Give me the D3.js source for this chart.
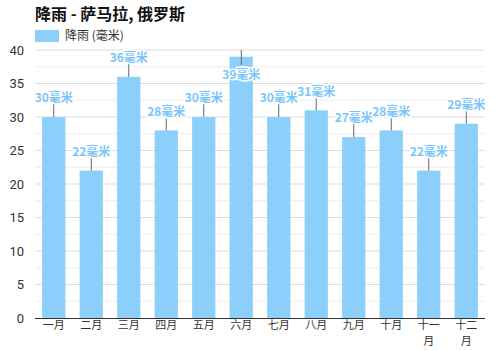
<!DOCTYPE html>
<html>
<head>
<meta charset="utf-8">
<script src="https://cdn.jsdelivr.net/npm/d3@7"></script>
<style>
  html, body { margin: 0; padding: 0; background: #fff; }
  svg { display: block; font-family: "Noto Sans CJK SC", "DejaVu Sans", sans-serif; }
</style>
</head>
<body>
<svg id="chart" width="500" height="350"></svg>
<script>
// Monthly rainfall for Samara, Russia
const months = ["一月", "二月", "三月", "四月", "五月", "六月", "七月", "八月", "九月", "十月", "十一月", "十二月"];
const rainfall = [30, 22, 36, 28, 30, 39, 30, 31, 27, 28, 22, 29];
const yTicks = [0, 5, 10, 15, 20, 25, 30, 35, 40];
const title = "降雨 - 萨马拉, 俄罗斯";
const seriesName = "降雨 (毫米)";
const unit = "毫米";

const barColor = "#8ccffb";
const labelColor = "#7ac5fa";

const svg = d3.select("#chart");
const margin = { top: 50, right: 15, bottom: 32, left: 35 };
const W = 500, H = 350;

const x = d3.scaleBand().domain(months).range([margin.left, W - margin.right]).paddingInner(0.38).paddingOuter(0.19);
const y = d3.scaleLinear().domain([0, 40]).range([H - margin.bottom, margin.top]);

// Gridlines: major every 5, minor halfway between
const minor = d3.range(2.5, 40, 5);
svg.append("g").selectAll("line").data(minor).join("line")
  .attr("x1", margin.left).attr("x2", W - margin.right)
  .attr("y1", d => y(d)).attr("y2", d => y(d))
  .attr("stroke", "#eeeeee").attr("stroke-width", 1);
svg.append("g").selectAll("line").data(yTicks.slice(1)).join("line")
  .attr("x1", margin.left).attr("x2", W - margin.right)
  .attr("y1", d => y(d)).attr("y2", d => y(d))
  .attr("stroke", "#dddddd").attr("stroke-width", 1);

// Bars
svg.append("g").selectAll("rect").data(rainfall).join("rect")
  .attr("x", (d, i) => x(months[i]))
  .attr("y", d => y(d))
  .attr("width", x.bandwidth())
  .attr("height", d => y(0) - y(d))
  .attr("fill", barColor);

// Y axis labels
svg.append("g").selectAll("text").data(yTicks).join("text")
  .attr("x", margin.left - 11)
  .attr("y", d => y(d))
  .attr("dy", "0.35em")
  .attr("text-anchor", "end")
  .attr("font-family", "Roboto, 'DejaVu Sans', sans-serif")
  .attr("font-size", 13)
  .attr("fill", "#333")
  .text(d => d);

// X axis baseline
svg.append("line")
  .attr("x1", margin.left).attr("x2", W - margin.right)
  .attr("y1", y(0) + 0.5).attr("y2", y(0) + 0.5)
  .attr("stroke", "#333").attr("stroke-width", 1.2);

// X axis labels: long names wrap onto a second line
const xg = svg.append("g");
months.forEach(m => {
  const cx = x(m) + x.bandwidth() / 2;
  const lines = m.length > 2 ? [m.slice(0, 2), m.slice(2)] : [m];
  lines.forEach((s, k) => {
    xg.append("text")
      .attr("x", cx).attr("y", y(0) + 11 + k * 16.2)
      .attr("text-anchor", "middle")
      .attr("font-size", 11)
      .attr("fill", "#333")
      .text(s);
  });
});

// Value labels with leader lines
const lg = svg.append("g");
rainfall.forEach((v, i) => {
  const cx = x(months[i]) + x.bandwidth() / 2;
  const top = y(v);
  let ly = top - 19;
  let l1 = top - 15, l2 = top;
  if (ly < margin.top + 4) {
    ly = top + 18;
    l1 = margin.top; l2 = ly - 10;
  }
  lg.append("line")
    .attr("x1", cx).attr("x2", cx).attr("y1", l1).attr("y2", l2)
    .attr("stroke", "#666").attr("stroke-width", 1);
  lg.append("text")
    .attr("x", cx).attr("y", ly).attr("dy", "0.35em")
    .attr("text-anchor", "middle")
    .attr("font-size", 12).attr("font-weight", "bold")
    .attr("fill", labelColor)
    .attr("stroke", "#fff").attr("stroke-width", 3).attr("stroke-linejoin", "round")
    .attr("paint-order", "stroke")
    .text(v + unit);
});

// Title and legend
svg.append("text")
  .attr("x", 35).attr("y", 20)
  .attr("font-size", 16).attr("font-weight", "bold").attr("fill", "#111")
  .text(title);
svg.append("rect")
  .attr("x", 35).attr("y", 30).attr("width", 24).attr("height", 12)
  .attr("fill", barColor);
svg.append("text")
  .attr("x", 65).attr("y", 36).attr("dy", "0.35em")
  .attr("font-size", 12).attr("fill", "#333")
  .text(seriesName);
</script>
</body>
</html>
